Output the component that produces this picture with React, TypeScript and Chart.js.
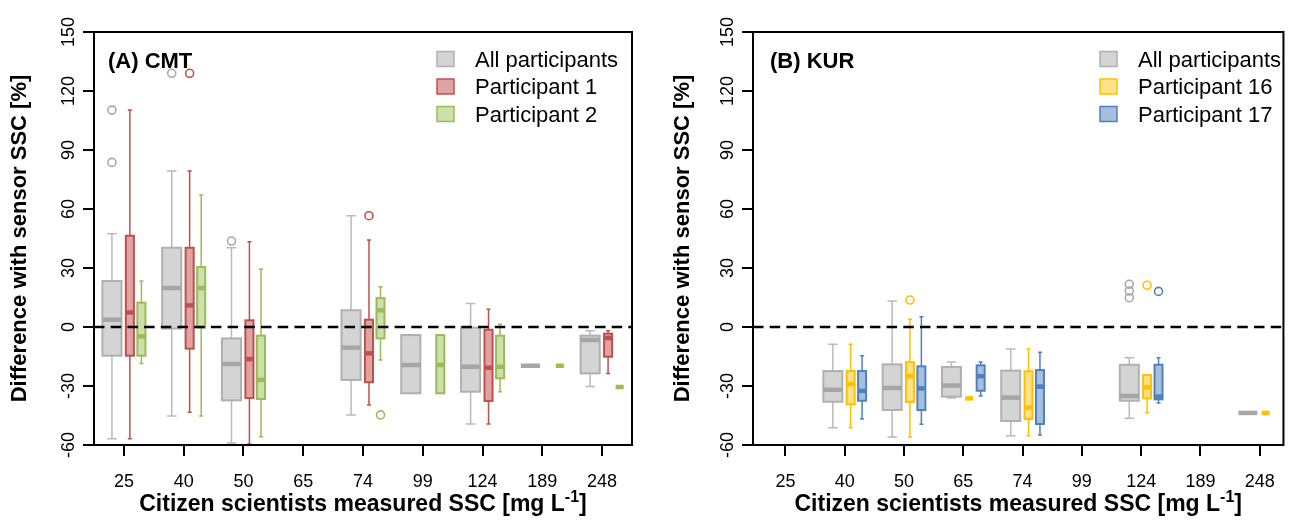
import React, { useEffect, useRef } from 'react';
import { Chart, registerables } from 'chart.js';

Chart.register(...registerables);

const FONT = '"Liberation Sans", Arial, Helvetica, sans-serif';

// x categories (citizen scientists measured SSC, mg/L)
const CATEGORIES = ['25', '40', '50', '65', '74', '99', '124', '189', '248'];
const Y_TICKS = [-60, -30, 0, 30, 60, 90, 120, 150];
const Y_MIN = -60;
const Y_MAX = 150;

// each box: [lower whisker, Q1, median, Q3, upper whisker]; null = no data
type Box = number[] | null;

// ---- (A) CMT ----
const CMT_ALL: Box[] = [
  [-56.8, -14.6, 3.7, 23.4, 47.4],
  [-45.2, -0.8, 19.8, 40.3, 79.3],
  [-59.0, -37.3, -18.8, -5.8, 40.3],
  null,
  [-44.7, -26.9, -10.5, 8.5, 56.6],
  [-33.7, -33.7, -19.3, -4.1, -4.1],
  [-49.3, -32.9, -20.2, -0.3, 11.9],
  [-19.7, -19.7, -19.7, -19.7, -19.7],
  [-30.3, -23.6, -6.6, -4.4, -1.9],
];
const CMT_ALL_OUT: number[][] = [[110.3, 83.7], [129], [43.7], [], [], [], [], [], []];

const CMT_P1: Box[] = [
  [-56.8, -14.6, 7.4, 46.4, 110.3],
  [-43.4, -11.0, 11.0, 40.3, 79.3],
  [-59.5, -36.1, -16.3, 3.4, 43.4],
  null,
  [-39.7, -28.1, -13.4, 3.7, 44.2],
  null,
  [-49.3, -37.6, -20.7, -1.4, 9.0],
  null,
  [-23.6, -15.1, -5.6, -3.4, -1.9],
];
const CMT_P1_OUT: number[][] = [[], [129], [], [], [56.6], [], [], [], []];

const CMT_P2: Box[] = [
  [-18.5, -14.6, -4.8, 12.4, 23.4],
  [-45.2, -0.3, 19.8, 30.5, 67.1],
  [-55.8, -36.6, -26.9, -4.4, 29.5],
  null,
  [-16.8, -5.8, 8.5, 14.7, 20.5],
  [-33.7, -33.7, -19.3, -4.1, -4.1],
  [-32.9, -26.1, -20.2, -4.4, 1.4],
  [-19.7, -19.7, -19.7, -19.7, -19.7],
  [-30.5, -30.5, -30.5, -30.5, -30.5],
];
const CMT_P2_OUT: number[][] = [[], [], [], [], [-44.7], [], [], [], []];

// ---- (B) KUR ----
const KUR_ALL: Box[] = [
  null,
  [-51.2, -38.0, -31.9, -22.4, -8.8],
  [-55.9, -42.2, -31.0, -19.0, 13.2],
  [-36.1, -35.4, -29.8, -20.3, -17.8],
  [-55.3, -47.8, -35.9, -22.2, -11.2],
  null,
  [-46.4, -37.5, -35.1, -19.2, -15.6],
  null,
  [-43.7, -43.7, -43.7, -43.7, -43.7],
];
const KUR_ALL_OUT: number[][] = [[], [], [], [], [], [], [21.7, 18.3, 14.9], [], []];

const KUR_P16: Box[] = [
  null,
  [-51.2, -39.3, -29.0, -22.4, -8.8],
  [-55.9, -38.1, -25.0, -17.9, 3.9],
  [-36.3, -36.3, -36.3, -36.3, -36.3],
  [-55.3, -46.8, -41.0, -22.5, -11.2],
  null,
  [-43.6, -36.3, -30.7, -24.4, -24.4],
  null,
  [-43.7, -43.7, -43.7, -43.7, -43.7],
];
const KUR_P16_OUT: number[][] = [[], [], [13.7], [], [], [], [21.2], [], []];

const KUR_P17: Box[] = [
  null,
  [-46.8, -37.5, -32.5, -22.4, -14.6],
  [-49.5, -42.2, -31.2, -20.0, 5.2],
  [-35.1, -32.4, -25.0, -19.5, -17.8],
  [-54.9, -49.3, -30.3, -21.9, -12.9],
  null,
  [-38.6, -36.8, -35.4, -19.2, -15.6],
  null,
  null,
];
const KUR_P17_OUT: number[][] = [[], [], [], [], [], [], [18.1], [], []];

// ---- styles ----
const STYLE_GRAY = { fill: '#d4d4d4', border: '#b0b0b0', median: '#a6a6a6', whisker: '#bababa' };
const STYLE_RED = { fill: '#dfa3a2', border: '#c0504d', median: '#c0504d', whisker: '#c0504d' };
const STYLE_GREEN = { fill: '#cddfaa', border: '#9bbb59', median: '#9bbb59', whisker: '#9bbb59' };
const STYLE_YELLOW = { fill: '#ffe18a', border: '#ffc000', median: '#ffc000', whisker: '#ffc000' };
const STYLE_BLUE = { fill: '#a7bfdf', border: '#4f81bd', median: '#4f81bd', whisker: '#4f81bd' };

// slot positions within a category (offset, width) in category units
const SLOTS = [
  { offset: -0.2, width: 0.32 },
  { offset: 0.1, width: 0.135 },
  { offset: 0.293, width: 0.135 },
];

const PANELS = [
  {
    id: 'A',
    label: '(A) CMT',
    canvasLeft: 0,
    chartLeft: 94,
    chartRightPad: 13,
    xMin: 0.5,
    xMax: 9.5,
    yTitleX: 20,
    labelX: 108,
    legendX: 437,
    series: [
      { name: 'All participants', boxes: CMT_ALL, outliers: CMT_ALL_OUT, style: STYLE_GRAY, slot: 0 },
      { name: 'Participant 1', boxes: CMT_P1, outliers: CMT_P1_OUT, style: STYLE_RED, slot: 1 },
      { name: 'Participant 2', boxes: CMT_P2, outliers: CMT_P2_OUT, style: STYLE_GREEN, slot: 2 },
    ],
  },
  {
    id: 'B',
    label: '(B) KUR',
    canvasLeft: 645,
    chartLeft: 108,
    chartRightPad: 2,
    xMin: 0.453,
    xMax: 9.4,
    yTitleX: 38,
    labelX: 125,
    legendX: 455,
    series: [
      { name: 'All participants', boxes: KUR_ALL, outliers: KUR_ALL_OUT, style: STYLE_GRAY, slot: 0 },
      { name: 'Participant 16', boxes: KUR_P16, outliers: KUR_P16_OUT, style: STYLE_YELLOW, slot: 1 },
      { name: 'Participant 17', boxes: KUR_P17, outliers: KUR_P17_OUT, style: STYLE_BLUE, slot: 2 },
    ],
  },
];

const W = 645;
const H = 523;
const CHART_TOP = 32;
const CHART_BOTTOM = 445;

function makePlugin(panel: any) {
  return {
    id: 'boxplotPanel' + panel.id,
    beforeDatasetsDraw(chart: any) {
      const { ctx, scales } = chart;
      const x = scales.x;
      const y = scales.y;
      panel.series.forEach((s: any) => {
        const slot = SLOTS[s.slot];
        s.boxes.forEach((b: Box, i: number) => {
          if (!b) return;
          const [lo, q1, med, q3, hi] = b;
          const cx = x.getPixelForValue(i + 1 + slot.offset);
          const hw = (x.getPixelForValue(i + 1 + slot.offset + slot.width / 2) - cx);
          const py = (v: number) => y.getPixelForValue(v);
          ctx.save();
          // whiskers + staples
          ctx.strokeStyle = s.style.whisker;
          ctx.lineWidth = 1.5;
          ctx.beginPath();
          if (hi > q3) {
            ctx.moveTo(cx, py(hi));
            ctx.lineTo(cx, py(q3));
          }
          if (lo < q1) {
            ctx.moveTo(cx, py(q1));
            ctx.lineTo(cx, py(lo));
          }
          if (hi > lo) {
            ctx.moveTo(cx - hw / 2, py(hi));
            ctx.lineTo(cx + hw / 2, py(hi));
            ctx.moveTo(cx - hw / 2, py(lo));
            ctx.lineTo(cx + hw / 2, py(lo));
          }
          ctx.stroke();
          // box
          if (q3 > q1) {
            const top = py(q3);
            const h = py(q1) - top;
            ctx.fillStyle = s.style.fill;
            ctx.fillRect(cx - hw, top, hw * 2, h);
            ctx.strokeStyle = s.style.border;
            ctx.lineWidth = 2;
            ctx.strokeRect(cx - hw, top, hw * 2, h);
          }
          // median
          ctx.strokeStyle = s.style.median;
          ctx.lineWidth = 4.5;
          ctx.lineCap = 'butt';
          ctx.beginPath();
          ctx.moveTo(cx - hw, py(med));
          ctx.lineTo(cx + hw, py(med));
          ctx.stroke();
          ctx.restore();
        });
      });
    },
    afterDatasetsDraw(chart: any) {
      const { ctx, chartArea, scales } = chart;
      const y0 = scales.y.getPixelForValue(0);
      ctx.save();
      ctx.strokeStyle = '#000';
      ctx.lineWidth = 2.5;
      ctx.setLineDash([10.5, 6.2]);
      ctx.beginPath();
      ctx.moveTo(chartArea.left, y0);
      ctx.lineTo(chartArea.right, y0);
      ctx.stroke();
      ctx.restore();
    },
    afterDraw(chart: any) {
      const { ctx, chartArea } = chart;
      ctx.save();
      // frame
      ctx.strokeStyle = '#000';
      ctx.lineWidth = 2;
      ctx.strokeRect(chartArea.left, chartArea.top, chartArea.right - chartArea.left, chartArea.bottom - chartArea.top);

      // panel label
      ctx.fillStyle = '#000';
      ctx.font = `bold 22px ${FONT}`;
      ctx.textAlign = 'left';
      ctx.textBaseline = 'alphabetic';
      ctx.fillText(panel.label, panel.labelX, 68);

      // legend
      ctx.font = `22px ${FONT}`;
      panel.series.forEach((s: any, i: number) => {
        const cy = 59 + i * 27.5;
        ctx.fillStyle = s.style.fill;
        ctx.fillRect(panel.legendX, cy - 7.5, 17, 15);
        ctx.strokeStyle = s.style.border;
        ctx.lineWidth = 1.5;
        ctx.strokeRect(panel.legendX, cy - 7.5, 17, 15);
        ctx.fillStyle = '#000';
        ctx.fillText(s.name, panel.legendX + 38, cy + 7.5);
      });

      // y title
      ctx.save();
      ctx.translate(panel.yTitleX, (chartArea.top + chartArea.bottom) / 2);
      ctx.rotate(-Math.PI / 2);
      ctx.font = `bold 22px ${FONT}`;
      ctx.textAlign = 'center';
      ctx.textBaseline = 'middle';
      ctx.fillStyle = '#000';
      ctx.fillText('Difference with sensor SSC [%]', 0, 0);
      ctx.restore();

      // x title with superscript
      const main = 'Citizen scientists measured SSC [mg L';
      const sup = '-1';
      const tail = ']';
      const bold = `bold 23px ${FONT}`;
      const supFont = `bold 16px ${FONT}`;
      ctx.font = bold;
      const w1 = ctx.measureText(main).width;
      const w3 = ctx.measureText(tail).width;
      ctx.font = supFont;
      const w2 = ctx.measureText(sup).width;
      const total = w1 + w2 + w3;
      const cxm = (chartArea.left + chartArea.right) / 2;
      let xs = cxm - total / 2;
      const base = 511;
      ctx.textAlign = 'left';
      ctx.textBaseline = 'alphabetic';
      ctx.fillStyle = '#000';
      ctx.font = bold;
      ctx.fillText(main, xs, base);
      xs += w1;
      ctx.font = supFont;
      ctx.fillText(sup, xs, base - 9);
      xs += w2;
      ctx.font = bold;
      ctx.fillText(tail, xs, base);
      ctx.restore();
    },
  };
}

function Panel({ panel }: { panel: any }) {
  const ref = useRef<HTMLCanvasElement | null>(null);

  useEffect(() => {
    const canvas = ref.current;
    if (!canvas) return;

    const datasets = panel.series.map((s: any) => {
      const slot = SLOTS[s.slot];
      const pts: { x: number; y: number }[] = [];
      s.outliers.forEach((vals: number[], i: number) => {
        vals.forEach((v) => pts.push({ x: i + 1 + slot.offset, y: v }));
      });
      return {
        type: 'scatter',
        label: s.name,
        data: pts,
        pointStyle: 'circle',
        pointRadius: 4,
        pointHoverRadius: 4,
        pointBorderWidth: 1.6,
        pointBackgroundColor: 'rgba(0,0,0,0)',
        pointBorderColor: s.slot === 0 ? '#a8a8a8' : s.style.border,
        showLine: false,
        clip: false,
      };
    });

    const chart = new Chart(canvas, {
      type: 'scatter',
      data: { datasets },
      options: {
        animation: false,
        responsive: false,
        maintainAspectRatio: false,
        devicePixelRatio: 1,
        events: [],
        layout: { padding: { top: CHART_TOP, right: panel.chartRightPad, left: 0, bottom: 0 } },
        plugins: { legend: { display: false }, tooltip: { enabled: false }, title: { display: false } },
        scales: {
          x: {
            type: 'linear',
            position: 'bottom',
            min: panel.xMin,
            max: panel.xMax,
            afterBuildTicks: (scale: any) => {
              scale.ticks = CATEGORIES.map((_, i) => ({ value: i + 1 }));
            },
            afterFit: (scale: any) => {
              scale.height = H - CHART_BOTTOM;
            },
            ticks: {
              autoSkip: false,
              maxRotation: 0,
              minRotation: 0,
              padding: 15,
              color: '#000',
              font: { family: FONT, size: 18 },
              callback: (_v: any, i: number) => CATEGORIES[i],
            },
            grid: { display: true, drawOnChartArea: false, drawTicks: true, tickLength: 11, color: '#000', lineWidth: 2 },
            border: { display: false },
          },
          y: {
            type: 'linear',
            position: 'left',
            min: Y_MIN,
            max: Y_MAX,
            afterBuildTicks: (scale: any) => {
              scale.ticks = Y_TICKS.map((v) => ({ value: v }));
            },
            afterFit: (scale: any) => {
              scale.width = panel.chartLeft;
            },
            ticks: {
              autoSkip: false,
              minRotation: 90,
              maxRotation: 90,
              crossAlign: 'center',
              padding: -1,
              color: '#000',
              font: { family: FONT, size: 18 },
              callback: (v: any) => String(v),
            },
            grid: { display: true, drawOnChartArea: false, drawTicks: true, tickLength: 11, color: '#000', lineWidth: 2 },
            border: { display: false },
          },
        },
      } as any,
      plugins: [makePlugin(panel)],
    } as any);

    return () => chart.destroy();
  }, [panel]);

  return (
    <canvas
      ref={ref}
      width={W}
      height={H}
      style={{ position: 'absolute', left: panel.canvasLeft, top: 0, width: W, height: H, display: 'block' }}
    />
  );
}

export default function App() {
  return (
    <div style={{ position: 'fixed', left: 0, top: 0, width: 1290, height: 523, background: '#fff', overflow: 'hidden' }}>
      {PANELS.map((p) => (
        <Panel key={p.id} panel={p} />
      ))}
    </div>
  );
}
